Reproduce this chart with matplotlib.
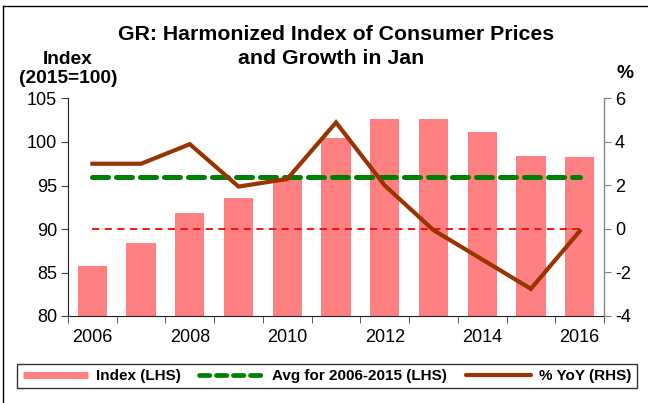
import matplotlib
matplotlib.use("Agg")
import matplotlib.pyplot as plt
from matplotlib.lines import Line2D
import numpy as np

plt.rcParams['font.family'] = ['Liberation Sans', 'DejaVu Sans']
plt.rcParams['axes.unicode_minus'] = False

years = [2006, 2007, 2008, 2009, 2010, 2011, 2012, 2013, 2014, 2015, 2016]
index_vals = [85.8, 88.4, 91.8, 93.6, 95.8, 100.5, 102.6, 102.6, 101.2, 98.4, 98.3]
yoy_vals = [3.0, 3.0, 3.9, 1.95, 2.3, 4.9, 2.0, -0.05, -1.4, -2.75, -0.1]
avg_2006_2015 = 96.0
zero_ref = 0.0
xtick_labels = ['2006', '2008', '2010', '2012', '2014', '2016']

fig = plt.figure(figsize=(6.48, 4.03), dpi=100)
ax = fig.add_axes([68/648, 1-316/403, (604-68)/648, (316-98.5)/403])
ax2 = ax.twinx()

x = np.arange(len(years))
ax.bar(x, index_vals, width=0.6, color='#FF8080', zorder=1)
ax.plot([x[0], x[-1]], [avg_2006_2015]*2, color='#008000', lw=3.6,
        dashes=(3.2, 1.6), dash_capstyle='round', zorder=3)
ax2.plot([x[0], x[-1]], [zero_ref]*2, color='#FF0000', lw=1.3,
         dashes=(4, 3), zorder=2)
ax2.plot(x, yoy_vals, color='#993300', lw=3.0, solid_joinstyle='miter', zorder=4)

ax.set_xlim(-0.5, len(years)-0.5)
ax.set_ylim(80, 105)
ax.set_yticks([80, 85, 90, 95, 100, 105])
ax2.set_ylim(-4, 6)
ax2.set_yticks([-4, -2, 0, 2, 4, 6])

# x ticks: boundaries as tick marks, labels under every other year
ax.set_xticks(np.arange(-0.5, len(years), 1.0), minor=True)
ax.set_xticks(x[::2])
ax.set_xticklabels(xtick_labels)
ax.tick_params(axis='x', which='major', length=0, pad=9, labelsize=13)
ax.tick_params(axis='x', which='minor', length=5, direction='out', color='#404040')
ax.tick_params(axis='y', length=5, direction='out', labelsize=13, pad=3, color='#404040')
ax2.tick_params(axis='y', length=5, direction='out', labelsize=13, pad=3, color='#808080')

for a in (ax, ax2):
    a.spines['top'].set_visible(False)
ax.spines['left'].set_color('#202020')
ax.spines['bottom'].set_color('#202020')
ax2.spines['right'].set_color('#808080')
ax2.spines['left'].set_visible(False)
ax2.spines['bottom'].set_visible(False)
ax2.patch.set_visible(False)

# titles and axis labels
fig.text(336/648, 1-40/403, 'GR: Harmonized Index of Consumer Prices', ha='center', va='baseline',
         fontsize=15.3, fontweight='bold')
fig.text(331/648, 1-63.5/403, 'and Growth in Jan', ha='center', va='baseline',
         fontsize=15.3, fontweight='bold')
fig.text(67.5/648, 1-64/403, 'Index', ha='center', va='baseline', fontsize=13.8, fontweight='bold')
fig.text(68/648, 1-83/403, '(2015=100)', ha='center', va='baseline', fontsize=13.8, fontweight='bold')
fig.text(625/648, 1-78/403, '%', ha='center', va='baseline', fontsize=13.8, fontweight='bold')

# legend
handles = [
    Line2D([0], [0], color='#FF8080', lw=5, solid_capstyle='butt'),
    Line2D([0], [0], color='#008000', lw=3.4, dashes=(2.2, 1.4), dash_capstyle='round'),
    Line2D([0], [0], color='#993300', lw=3.0, solid_capstyle='round'),
]
labels = ['Index (LHS)', 'Avg for 2006-2015 (LHS)', '% YoY (RHS)']
leg = fig.legend(handles, labels, loc='center', bbox_to_anchor=(327/648, 1-376/403),
                 ncol=3, frameon=True, fancybox=False, edgecolor='black',
                 prop={'weight': 'bold', 'size': 11}, handlelength=4.3,
                 handletextpad=0.5, columnspacing=1.2, borderpad=0.35)
leg.get_frame().set_linewidth(1.0)

# outer frame (left and top edges visible)
fig.add_artist(Line2D([3/648, 3/648], [0, 1-6/403], transform=fig.transFigure, color='black', lw=1))
fig.add_artist(Line2D([3/648, 1], [1-6/403, 1-6/403], transform=fig.transFigure, color='black', lw=1))

fig.savefig('out.png', dpi=100)
